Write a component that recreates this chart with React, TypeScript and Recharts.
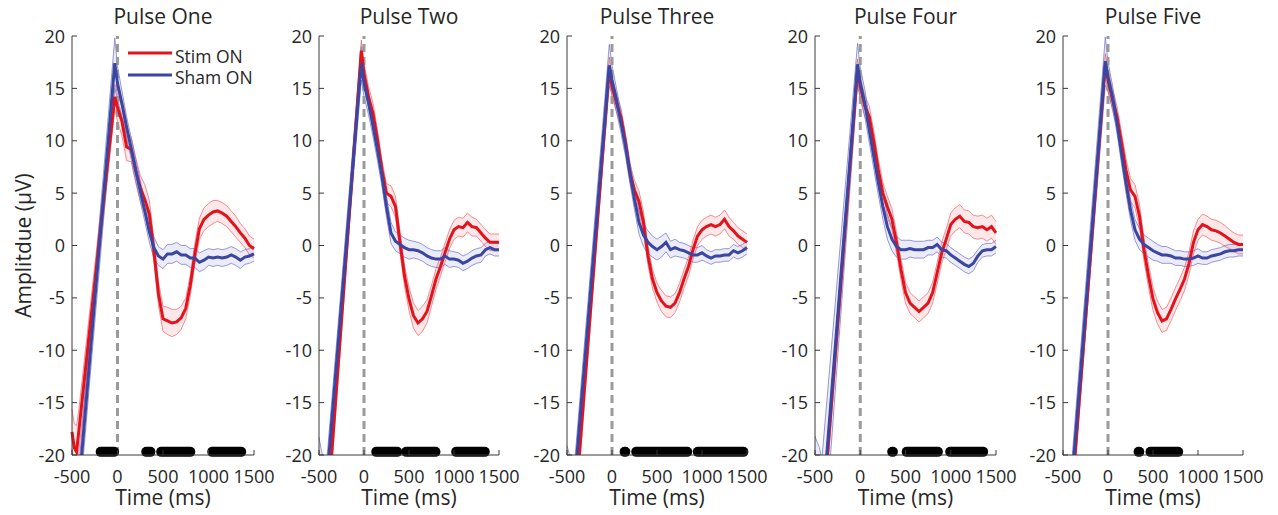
import { ComposedChart, Line, Area, XAxis, YAxis, ReferenceLine, Legend } from 'recharts'

// time samples (ms); the gap between -425 and the peak is the stimulus artifact
const times = [-500, -475, -450, -425, -30, 0, 50, 100, 150, 200, 250, 300, 350, 400, 450, 500, 550, 600, 650, 700, 750, 800, 850, 900, 950, 1000, 1050, 1100, 1150, 1200, 1250, 1300, 1350, 1400, 1450, 1500]

const titles = ['Pulse One', 'Pulse Two', 'Pulse Three', 'Pulse Four', 'Pulse Five']

const stimOne = [-17.8, -19.3, -19.7, -17.7, 14.2, 13.2, 11.8, 9.4, 9.2, 7.2, 5.5, 4.4, 3.0, -0.5, -4.6, -7.0, -7.2, -7.4, -7.3, -6.9, -6.0, -3.8, -0.8, 1.6, 2.5, 2.9, 3.2, 3.3, 3.1, 2.8, 2.3, 1.8, 1.2, 0.7, 0.0, -0.3]
const stimOneErr = [2.2, 2.3, 2.5, 2.0, 1.2, 1.3, 1.4, 1.3, 1.2, 1.2, 1.2, 1.4, 1.3, 1.1, 1.1, 1.2, 1.3, 1.3, 1.2, 1.1, 1.0, 1.0, 1.0, 1.0, 1.1, 1.1, 1.1, 1.0, 1.0, 1.0, 1.0, 1.0, 0.9, 0.9, 0.9, 0.9]
const shamOne = [-22, -24, -25, -23.2, 17.4, 15.5, 13.5, 11.3, 9.3, 7.2, 5.2, 3.3, 1.3, -0.2, -1.0, -1.3, -0.8, -0.8, -0.6, -0.9, -0.9, -1.2, -1.2, -1.6, -1.4, -1.1, -1.2, -1.1, -1.2, -1.1, -0.9, -1.1, -1.4, -1.1, -1.0, -0.8]
const shamOneErr = [2.6, 2.5, 2.5, 2.0, 2.4, 1.6, 1.2, 1.0, 1.0, 1.0, 1.0, 1.0, 1.0, 1.0, 0.9, 0.9, 0.9, 0.9, 0.9, 0.9, 0.9, 0.9, 0.9, 0.9, 0.9, 0.8, 0.8, 0.8, 0.8, 0.8, 0.8, 0.8, 0.8, 0.7, 0.7, 0.7]

const stimTwo = [-25, -26, -27, -27.6, 18.6, 16.4, 14.2, 12.6, 10.1, 7.2, 5.0, 4.7, 3.7, 0.3, -2.9, -5.1, -6.7, -7.4, -7.0, -6.3, -4.8, -3.2, -2.0, -0.7, 0.6, 1.5, 1.8, 1.7, 2.2, 1.8, 1.7, 1.2, 0.7, 0.3, 0.3, 0.3]
const stimTwoErr = [1.5, 1.5, 1.5, 1.5, 1.0, 1.0, 1.0, 1.0, 0.9, 0.9, 0.9, 1.0, 1.0, 1.0, 1.0, 1.1, 1.2, 1.2, 1.2, 1.1, 1.0, 1.0, 0.9, 0.9, 0.9, 0.9, 0.9, 0.9, 0.9, 0.9, 0.8, 0.8, 0.8, 0.8, 0.8, 0.8]
const shamTwo = [-22, -23, -24, -23.7, 17.4, 15.5, 13.6, 11.4, 9.1, 6.6, 3.7, 1.2, 0.4, 0.1, -0.2, -0.4, -0.4, -0.5, -0.7, -1.0, -1.2, -1.3, -1.3, -1.0, -1.3, -1.3, -1.4, -1.7, -1.5, -1.2, -1.0, -0.9, -0.4, -0.2, -0.4, -0.4]
const shamTwoErr = [3.7, 3.5, 3.5, 2.0, 1.6, 1.3, 1.1, 1.0, 1.0, 1.0, 1.0, 1.0, 0.9, 0.9, 0.9, 0.9, 0.8, 0.8, 0.8, 0.8, 0.8, 0.8, 0.8, 0.8, 0.8, 0.7, 0.7, 0.7, 0.7, 0.7, 0.7, 0.7, 0.6, 0.6, 0.6, 0.6]

const stimThree = [-25, -26, -27, -26.9, 17.0, 15.2, 13.6, 12.2, 9.8, 6.9, 5.3, 4.2, 2.2, -1.0, -3.2, -4.5, -5.3, -5.8, -5.9, -5.5, -4.5, -3.2, -2.0, -0.4, 0.9, 1.5, 1.8, 2.0, 1.8, 2.0, 2.5, 1.8, 1.4, 0.9, 0.6, 0.3]
const stimThreeErr = [1.5, 1.5, 1.5, 1.5, 1.0, 0.9, 0.9, 0.9, 0.9, 0.9, 0.9, 1.0, 1.0, 0.9, 0.9, 0.9, 1.0, 1.0, 1.0, 0.9, 0.9, 0.9, 0.9, 0.9, 0.9, 0.9, 0.9, 0.9, 0.9, 0.9, 0.9, 0.9, 0.8, 0.8, 0.8, 0.8]
const shamThree = [-21.5, -23, -24, -23.7, 17.2, 15.8, 13.9, 11.7, 9.5, 6.9, 4.4, 2.2, 1.0, 0.3, -0.1, -0.4, -0.1, 0.3, -0.4, -0.2, -0.4, -0.5, -0.7, -0.9, -0.9, -0.7, -1.0, -1.2, -1.0, -1.0, -0.9, -0.9, -0.5, -0.7, -0.5, -0.2]
const shamThreeErr = [2.4, 3.1, 3.0, 2.0, 2.0, 1.4, 1.1, 1.0, 1.0, 1.0, 1.0, 1.1, 1.1, 1.1, 1.0, 1.0, 1.0, 0.9, 0.8, 0.8, 0.7, 0.7, 0.7, 0.7, 0.7, 0.7, 0.6, 0.6, 0.6, 0.6, 0.6, 0.6, 0.6, 0.6, 0.6, 0.6]

const stimFour = [-25, -26, -27, -27, 16.8, 15.2, 13.3, 12.3, 9.9, 7.2, 5.0, 3.7, 2.5, 0.3, -2.3, -4.5, -5.5, -5.9, -6.3, -5.9, -5.5, -4.5, -2.6, -0.7, 0.6, 2.0, 2.5, 2.8, 2.3, 2.2, 1.8, 1.7, 1.8, 1.5, 1.8, 1.2]
const stimFourErr = [1.5, 1.5, 1.5, 1.5, 1.0, 1.0, 1.0, 1.0, 1.0, 1.0, 1.0, 1.0, 1.0, 1.0, 1.0, 1.0, 1.0, 1.0, 1.0, 1.0, 1.0, 1.0, 1.0, 1.0, 1.0, 1.1, 1.1, 1.1, 1.1, 1.1, 1.1, 1.1, 1.1, 1.1, 1.1, 1.1]
const shamFour = [-21.5, -22.5, -23.5, -26, 17.3, 15.5, 13.6, 11.0, 8.5, 6.0, 3.7, 1.8, 0.6, -0.1, -0.4, -0.4, -0.3, -0.4, -0.4, -0.4, -0.2, -0.2, 0.1, -0.4, -0.5, -0.9, -1.2, -1.5, -1.8, -2.0, -1.7, -1.0, -0.5, -0.4, -0.4, -0.1]
const shamFourErr = [3.3, 3.7, 4.2, 5.5, 2.0, 1.5, 1.3, 1.2, 1.2, 1.2, 1.2, 1.2, 1.1, 1.0, 0.9, 0.9, 0.8, 0.8, 0.8, 0.8, 0.7, 0.7, 0.7, 0.7, 0.7, 0.7, 0.7, 0.7, 0.7, 0.7, 0.7, 0.6, 0.6, 0.6, 0.6, 0.6]

const stimFive = [-25, -26, -27, -26.5, 17.3, 15.8, 13.9, 12.3, 9.8, 7.2, 5.3, 4.7, 2.8, -0.4, -2.9, -5.1, -6.4, -7.2, -7.0, -6.1, -5.1, -4.2, -3.2, -1.7, 0.3, 1.5, 2.0, 1.8, 1.5, 1.4, 1.2, 0.9, 0.6, 0.3, 0.1, 0.1]
const stimFiveErr = [1.5, 1.5, 1.5, 1.5, 1.0, 1.0, 1.0, 1.0, 1.0, 1.1, 1.1, 1.1, 1.1, 1.1, 1.1, 1.1, 1.1, 1.1, 1.1, 1.1, 1.1, 1.1, 1.1, 1.1, 1.1, 1.0, 1.0, 1.0, 1.0, 1.0, 1.0, 1.0, 0.9, 0.9, 0.9, 0.9]
const shamFive = [-21, -22, -23.5, -25.1, 17.6, 16.1, 14.2, 11.7, 8.8, 6.0, 3.4, 1.5, 0.6, 0.1, -0.2, -0.5, -0.7, -0.9, -0.9, -1.0, -1.2, -1.2, -1.3, -1.3, -1.2, -1.0, -1.2, -1.2, -1.0, -0.9, -0.8, -0.6, -0.5, -0.5, -0.4, -0.4]
const shamFiveErr = [1.2, 1.5, 2.0, 2.0, 2.3, 1.4, 1.1, 1.0, 1.0, 1.0, 1.0, 1.0, 1.0, 0.9, 0.9, 0.9, 0.8, 0.8, 0.8, 0.7, 0.7, 0.7, 0.7, 0.7, 0.7, 0.7, 0.6, 0.6, 0.6, 0.6, 0.6, 0.6, 0.6, 0.6, 0.6, 0.6]

// significant time windows (ms), drawn as rows of dots at the bottom
const sigOne = [[-185, -38], [316, 362], [480, 800], [1041, 1359]]
const sigTwo = [[136, 369], [469, 794], [1024, 1342]]
const sigThree = [[140, 148], [269, 836], [953, 1460]]
const sigFour = [[353, 361], [513, 858], [994, 1358]]
const sigFive = [[340, 348], [472, 780]]

const xTicks = [-500, 0, 500, 1000, 1500]
const yTicks = [-20, -15, -10, -5, 0, 5, 10, 15, 20]

const RED = '#e3121b'
const BLUE = '#3a46a2'
const AXIS = '#3a3a3a'
const TEXT = '#262626'
const FONT = "'Open Sans', sans-serif"

const panels = [
  { stim: stimOne, stimErr: stimOneErr, sham: shamOne, shamErr: shamOneErr, sig: sigOne, axisX: 72, plotW: 182, yW: 72 },
  { stim: stimTwo, stimErr: stimTwoErr, sham: shamTwo, shamErr: shamTwoErr, sig: sigTwo, axisX: 319, plotW: 180, yW: 50 },
  { stim: stimThree, stimErr: stimThreeErr, sham: shamThree, shamErr: shamThreeErr, sig: sigThree, axisX: 567, plotW: 180, yW: 50 },
  { stim: stimFour, stimErr: stimFourErr, sham: shamFour, shamErr: shamFourErr, sig: sigFour, axisX: 815, plotW: 181, yW: 50 },
  { stim: stimFive, stimErr: stimFiveErr, sham: shamFive, shamErr: shamFiveErr, sig: sigFive, axisX: 1063, plotW: 180, yW: 50 },
]

const RIGHT = 32

function XTick({ x, y, payload }: any) {
  return (
    <g>
      <line x1={x} x2={x} y1={y} y2={y - 5} stroke={AXIS} />
      <text x={x} y={y + 28} textAnchor="middle" fontSize={18} fontFamily={FONT} fill={TEXT}>{payload.value}</text>
    </g>
  )
}

function YTick({ x, y, payload }: any) {
  return (
    <g>
      <line x1={x} x2={x + 5} y1={y} y2={y} stroke={AXIS} />
      <text x={x - 7} y={y + 6.5} textAnchor="end" fontSize={18} fontFamily={FONT} fill={TEXT}>{payload.value}</text>
    </g>
  )
}

function LegendBox() {
  return (
    <svg width={140} height={46} style={{ overflow: 'visible' }}>
      <line x1={8} x2={52} y1={9} y2={9} stroke={RED} strokeWidth={3} />
      <text x={55} y={19} fontSize={17.5} fontFamily={FONT} fill={TEXT}>Stim ON</text>
      <line x1={8} x2={52} y1={31} y2={31} stroke={BLUE} strokeWidth={3} />
      <text x={55} y={40} fontSize={17.5} fontFamily={FONT} fill={TEXT}>Sham ON</text>
    </svg>
  )
}

function Panel({ idx }: { idx: number }) {
  const p = panels[idx]
  const data = times.map((t, i) => {
    const se = p.stimErr[i] ?? 1
    const he = p.shamErr[i] ?? 1
    return {
      t,
      stim: p.stim[i],
      stimBand: [p.stim[i] - se, p.stim[i] + se],
      sham: p.sham[i],
      shamBand: [p.sham[i] - he, p.sham[i] + he],
    }
  })
  const width = p.yW + p.plotW + RIGHT
  const left = p.axisX - p.yW

  return (
    <div style={{ position: 'absolute', left, top: 0 }}>
      <div
        style={{
          position: 'absolute', left: p.yW, top: 6, width: p.plotW, textAlign: 'center',
          fontFamily: FONT, fontSize: 21, lineHeight: '21px', color: TEXT, whiteSpace: 'nowrap',
        }}
      >
        {titles[idx]}
      </div>
      <ComposedChart width={width} height={515} data={data} margin={{ top: 36, right: RIGHT, bottom: 0, left: 0 }}>
        <XAxis
          type="number"
          dataKey="t"
          domain={[-500, 1500]}
          ticks={xTicks}
          interval={0}
          tickSize={0}
          tickMargin={0}
          tick={<XTick />}
          stroke={AXIS}
          height={60}
          label={(props: any) => {
            const vb = props.viewBox
            return (
              <text x={vb.x + vb.width / 2} y={505} textAnchor="middle" fontSize={21} fontFamily={FONT} fill={TEXT}>
                Time (ms)
              </text>
            )
          }}
        />
        <YAxis
          type="number"
          domain={[-20, 20]}
          ticks={yTicks}
          interval={0}
          allowDataOverflow
          tickSize={0}
          tickMargin={0}
          tick={<YTick />}
          stroke={AXIS}
          width={p.yW}
          label={idx === 0 ? (props: any) => {
            const vb = props.viewBox
            const cx = vb.x + 23
            const cy = vb.y + vb.height / 2
            return (
              <text x={cx} y={cy} transform={`rotate(-90 ${cx} ${cy})`} textAnchor="middle" dominantBaseline="central" fontSize={21} fontFamily={FONT} fill={TEXT}>
                Amplitdue (μV)
              </text>
            )
          } : undefined}
        />
        <Area dataKey="stimBand" type="linear" stroke="rgba(236,70,80,0.6)" strokeWidth={1} fill="rgba(240,110,120,0.27)" isAnimationActive={false} activeDot={false} />
        <Area dataKey="shamBand" type="linear" stroke="rgba(110,110,200,0.7)" strokeWidth={1} fill="rgba(130,130,210,0.25)" isAnimationActive={false} activeDot={false} />
        <ReferenceLine x={0} stroke="#9a9a9a" strokeWidth={3} strokeDasharray="8 5" />
        <Line dataKey="stim" type="linear" stroke={RED} strokeWidth={3} dot={false} activeDot={false} isAnimationActive={false} />
        <Line dataKey="sham" type="linear" stroke={BLUE} strokeWidth={3} dot={false} activeDot={false} isAnimationActive={false} />
        {p.sig.map(([a, b], k) => (
          <ReferenceLine
            key={k}
            segment={[{ x: a, y: -19.7 }, { x: b, y: -19.7 }]}
            stroke="#000"
            strokeWidth={10}
            strokeLinecap="round"
          />
        ))}
        {idx === 0 && (
          <Legend
            layout="horizontal"
            verticalAlign="middle"
            align="center"
            wrapperStyle={{ left: 120, top: 44, width: 140, height: 46 }}
            content={() => <LegendBox />}
          />
        )}
      </ComposedChart>
    </div>
  )
}

export default function App() {
  return (
    <div style={{ position: 'absolute', left: 0, top: 0, width: 1278, height: 515, background: '#fff' }}>
      {panels.map((_, i) => (
        <Panel key={i} idx={i} />
      ))}
    </div>
  )
}
